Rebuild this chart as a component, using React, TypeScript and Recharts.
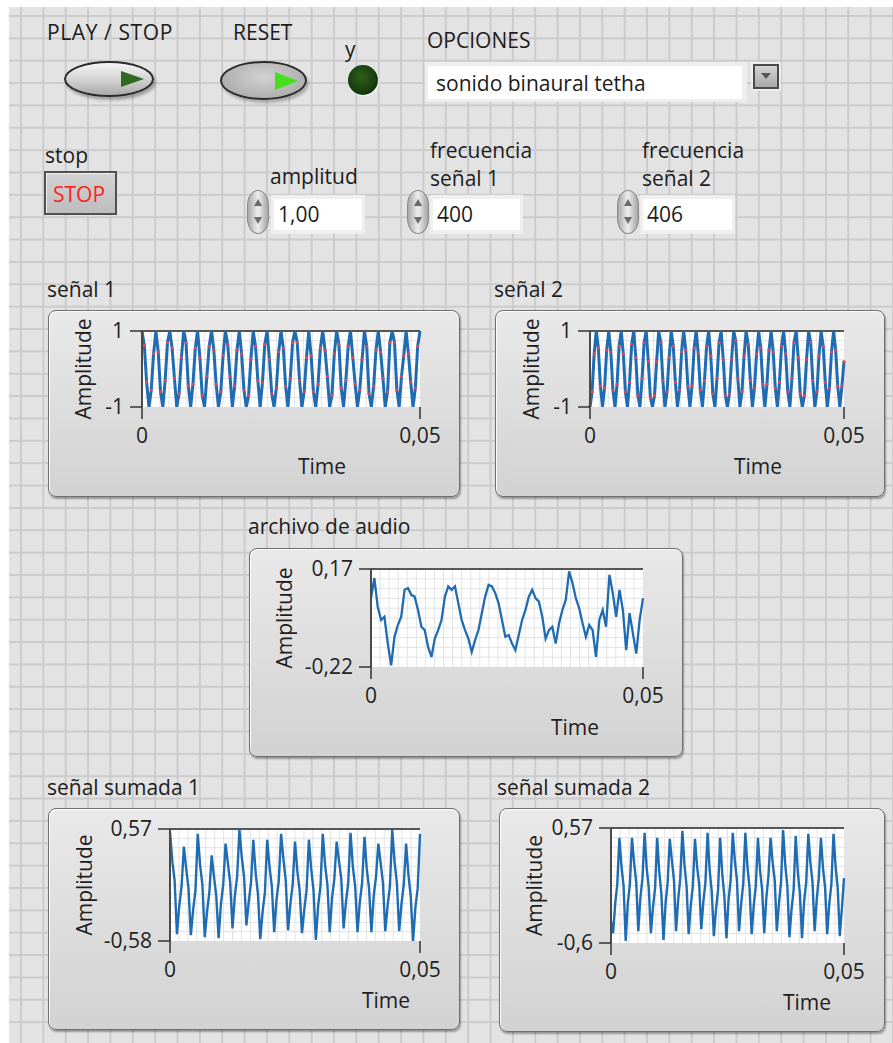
import React from "react";
import { LineChart, Line, XAxis, YAxis, CartesianGrid, ReferenceLine } from "recharts";

const FONT = "'Open Sans', 'Noto Sans', sans-serif";
const FS = 21;
const TXT = "#1c1c1c";

// ---------- data ----------
const timeTickLabels = ["0", "0,05"];

const senal1YTicks = [-1, 1];
const senal1YLabels = ["-1", "1"];
const senal1 = [
  1, 0.62, -0.35, -1, -0.55, 0.4,
  1, 0.45, -0.6, -1, -0.3, 0.7,
  1, 0.55, -0.25, -1, -0.65, 0.3,
  1, 0.7, -0.45, -1, -0.4, 0.55,
  1, 0.3, -0.7, -1, -0.2, 0.6,
  1, 0.5, -0.4, -1, -0.6, 0.35,
  1, 0.65, -0.2, -1, -0.45, 0.5,
  1, 0.4, -0.55, -1, -0.7, 0.25,
  1, 0.6, -0.3, -1, -0.35, 0.65,
  1, 0.25, -0.65, -1, -0.5, 0.45,
  1, 0.55, -0.45, -1, -0.25, 0.7,
  1, 0.7, -0.3, -1, -0.6, 0.3,
  1, 0.35, -0.6, -1, -0.4, 0.55,
  1, 0.5, -0.2, -1, -0.7, 0.4,
  1, 0.65, -0.5, -1, -0.3, 0.6,
  1, 0.3, -0.4, -1, -0.55, 0.25,
  1, 0.6, -0.65, -1, -0.45, 0.5,
  1, 0.45, -0.25, -1, -0.6, 0.7,
  1, 0.7, -0.55, -1, -0.2, 0.35,
  1, 0.4, -0.35, -1, -0.5, 0.6,
  1,
];

const senal2YTicks = [-1, 1];
const senal2YLabels = ["-1", "1"];
const senal2 = [
  -1, -0.6, 0.4, 1, 0.55, -0.45,
  -1, -0.5, 0.5, 1, 0.45, -0.55,
  -1, -0.4, 0.6, 1, 0.4, -0.6,
  -1, -0.35, 0.65, 1, 0.3, -0.7,
  -1, -0.25, 0.7, 1, 0.2, -0.75,
  -1, -0.7, 0.2, 1, 0.7, -0.3,
  -1, -0.6, 0.3, 1, 0.6, -0.35,
  -1, -0.55, 0.45, 1, 0.5, -0.45,
  -1, -0.45, 0.55, 1, 0.4, -0.55,
  -1, -0.3, 0.6, 1, 0.35, -0.65,
  -1, -0.25, 0.7, 1, 0.25, -0.7,
  -1, -0.65, 0.25, 1, 0.75, -0.25,
  -1, -0.6, 0.35, 1, 0.65, -0.3,
  -1, -0.5, 0.4, 1, 0.55, -0.4,
  -1, -0.4, 0.5, 1, 0.45, -0.5,
  -1, -0.35, 0.6, 1, 0.4, -0.6,
  -1, -0.25, 0.7, 1, 0.3, -0.65,
  -1, -0.7, 0.25, 1, 0.7, -0.3,
  -1, -0.6, 0.35, 1, 0.6, -0.35,
  -1, -0.5, 0.45, 1, 0.5, -0.45,
  -1, -0.45, 0.2,
];

const audioYTicks = [-0.22, 0.17];
const audioYLabels = ["-0,22", "0,17"];
const audio = [
  0.054, 0.134, 0.02, -0.033, -0.02, -0.127, -0.213, -0.1, -0.053, -0.02,
  0.087, 0.094, 0.067, 0.06, 0.007, -0.06, -0.073, -0.14, -0.18, -0.107,
  -0.073, -0.033, 0.06, 0.101, 0.087, 0.101, 0.034, -0.033, -0.073, -0.107,
  -0.16, -0.113, -0.073, -0.006, 0.06, 0.107, 0.101, 0.074, 0.034, -0.033,
  -0.1, -0.093, -0.127, -0.153, -0.093, -0.033, 0.007, 0.06, 0.087, 0.054,
  0.04, -0.02, -0.107, -0.073, -0.06, -0.127, -0.046, 0.007, 0.047, 0.161,
  0.114, 0.054, 0.014, -0.046, -0.1, -0.053, -0.073, -0.18, -0.033, 0.007,
  -0.06, 0.147, 0.074, -0.02, 0.087, 0.007, -0.153, -0.006, -0.087, -0.167,
  -0.033, 0.054,
];

const sumada1YTicks = [-0.58, 0.57];
const sumada1YLabels = ["-0,58", "0,57"];
const sumada1 = [
  0.54, 0.24, 0.04, -0.51, -0.22, -0.02,
  0.39, 0.16, -0.04, -0.52, -0.26, -0.06,
  0.52, 0.2, 0.0, -0.54, -0.28, -0.08,
  0.3, 0.08, -0.12, -0.55, -0.2, 0.0,
  0.42, 0.22, 0.02, -0.45, -0.12, 0.08,
  0.56, 0.28, 0.08, -0.42, -0.18, 0.02,
  0.46, 0.12, -0.1, -0.56, -0.28, -0.08,
  0.46, 0.18, -0.02, -0.49, -0.16, 0.04,
  0.52, 0.26, 0.04, -0.47, -0.2, 0.0,
  0.44, 0.14, -0.06, -0.5, -0.26, -0.06,
  0.46, 0.16, -0.06, -0.57, -0.22, -0.02,
  0.52, 0.2, 0.0, -0.49, -0.14, 0.06,
  0.44, 0.24, 0.06, -0.45, -0.18, 0.02,
  0.53, 0.18, -0.02, -0.49, -0.18, 0.02,
  0.49, 0.16, -0.04, -0.49, -0.12, 0.08,
  0.42, 0.22, 0.02, -0.48, -0.22, -0.02,
  0.56, 0.24, 0.02, -0.48, -0.2, 0.0,
  0.42, 0.1, -0.12, -0.58, -0.24, -0.04,
  0.52,
];

const sumada2YTicks = [-0.6, 0.57];
const sumada2YLabels = ["-0,6", "0,57"];
const sumada2 = [
  -0.38, -0.5, -0.2, 0.0,
  0.47, 0.18, -0.02, -0.58, -0.2, 0.0,
  0.47, 0.22, 0.02, -0.48, -0.14, 0.06,
  0.52, 0.16, -0.04, -0.5, -0.24, -0.04,
  0.47, 0.12, -0.1, -0.57, -0.2, 0.02,
  0.46, 0.24, 0.04, -0.48, -0.16, 0.06,
  0.54, 0.2, -0.02, -0.51, -0.22, -0.02,
  0.46, 0.18, 0.0, -0.46, -0.18, 0.02,
  0.52, 0.14, -0.08, -0.53, -0.26, -0.06,
  0.47, 0.1, -0.12, -0.55, -0.16, 0.04,
  0.52, 0.24, 0.04, -0.48, -0.2, 0.0,
  0.52, 0.18, -0.04, -0.51, -0.22, -0.02,
  0.47, 0.14, -0.06, -0.5, -0.14, 0.08,
  0.47, 0.22, 0.04, -0.48, -0.2, 0.02,
  0.55, 0.2, -0.02, -0.54, -0.26, -0.06,
  0.49, 0.12, -0.1, -0.55, -0.18, 0.02,
  0.51, 0.22, 0.02, -0.48, -0.16, 0.06,
  0.47, 0.16, -0.04, -0.51, -0.2, 0.0,
  0.51, 0.18, -0.04, -0.53, -0.25, 0.06,
];

// ---------- layout ----------
type Rect = { x: number; y: number; w: number; h: number };
type GraphSpec = {
  title: string;
  titleX: number;
  titleBase: number;
  box: Rect;
  plot: Rect;
  ampX: number;
  timeX: number;
  timeBase: number;
  values: number[];
  yTicks: number[];
  yLabels: string[];
  lineWidth: number;
  redDots?: boolean;
};

const graphs: GraphSpec[] = [
  {
    title: "señal 1", titleX: 47, titleBase: 297.5,
    box: { x: 48, y: 310, w: 412, h: 187 }, plot: { x: 142, y: 331, w: 278, h: 76 },
    ampX: 84, timeX: 322, timeBase: 474,
    values: senal1, yTicks: senal1YTicks, yLabels: senal1YLabels, lineWidth: 3, redDots: true,
  },
  {
    title: "señal 2", titleX: 494, titleBase: 297.5,
    box: { x: 495, y: 310, w: 390, h: 187 }, plot: { x: 590, y: 331, w: 254, h: 76 },
    ampX: 532, timeX: 758, timeBase: 474,
    values: senal2, yTicks: senal2YTicks, yLabels: senal2YLabels, lineWidth: 3, redDots: true,
  },
  {
    title: "archivo de audio", titleX: 248, titleBase: 535,
    box: { x: 249, y: 548, w: 434, h: 209 }, plot: { x: 371, y: 569, w: 272, h: 98 },
    ampX: 285, timeX: 575, timeBase: 735,
    values: audio, yTicks: audioYTicks, yLabels: audioYLabels, lineWidth: 2.3,
  },
  {
    title: "señal sumada 1", titleX: 47, titleBase: 795.5,
    box: { x: 48, y: 808, w: 412, h: 222 }, plot: { x: 170, y: 829, w: 250, h: 112 },
    ampX: 85, timeX: 386, timeBase: 1008,
    values: sumada1, yTicks: sumada1YTicks, yLabels: sumada1YLabels, lineWidth: 2.4,
  },
  {
    title: "señal sumada 2", titleX: 497, titleBase: 795.5,
    box: { x: 499, y: 808, w: 386, h: 224 }, plot: { x: 611, y: 828, w: 233, h: 115 },
    ampX: 535, timeX: 807, timeBase: 1010,
    values: sumada2, yTicks: sumada2YTicks, yLabels: sumada2YLabels, lineWidth: 2.4,
  },
];

function Txt({ x, base, size = FS, color = TXT, spacing = 0, children }: any) {
  return (
    <div
      style={{
        position: "absolute", left: x, top: base - 0.888 * size, fontSize: size,
        lineHeight: `${size}px`, color, fontFamily: FONT, whiteSpace: "nowrap",
        letterSpacing: spacing,
      }}
    >
      {children}
    </div>
  );
}

function gridLines(start: number, len: number, step: number) {
  const n = Math.max(1, Math.round(len / step));
  const out: number[] = [];
  for (let k = 1; k < n; k++) out.push(start + (k * len) / n);
  return out;
}

function redDot(p: any) {
  const v = p.payload ? p.payload.v : undefined;
  if (v === undefined || Math.abs(v) > 0.9) return <g key={`d${p.index}`} />;
  return <circle key={`d${p.index}`} cx={p.cx} cy={p.cy} r={1.5} fill="#e0485a" />;
}

function Graph({ g }: { g: GraphSpec }) {
  const { box, plot } = g;
  const left = plot.x - box.x;
  const top = plot.y - box.y;
  const right = box.x + box.w - (plot.x + plot.w);
  const axisH = g.timeBase - (plot.y + plot.h);
  const bottom = box.y + box.h - g.timeBase;
  const data = g.values.map((v, i) => ({ i, v }));
  const last = g.values.length - 1;
  const vLines = gridLines(left, plot.w, 9);
  const hLines = gridLines(top, plot.h, 9.5);
  const tickStyle = { fill: "#222", fontSize: FS, fontFamily: FONT };
  return (
    <>
      <Txt x={g.titleX} base={g.titleBase}>{g.title}</Txt>
      <div
        style={{
          position: "absolute", left: box.x, top: box.y, width: box.w, height: box.h,
          boxSizing: "border-box", borderRadius: 8, border: "1px solid #6f6f6f",
          background: "linear-gradient(#e9e9e9, #d2d2d2)",
          boxShadow: "inset 1px 1px 0 #fbfbfb, 1px 2px 2px rgba(0,0,0,0.35)",
        }}
      />
      <div style={{ position: "absolute", left: box.x, top: box.y }}>
        <LineChart width={box.w} height={box.h} data={data} margin={{ top, right, bottom, left: 0 }}>
          <CartesianGrid
            fill="#ffffff"
            stroke="#e3e3e3"
            verticalCoordinatesGenerator={() => vLines}
            horizontalCoordinatesGenerator={() => hLines}
          />
          <XAxis
            type="number"
            dataKey="i"
            domain={[0, last]}
            ticks={[0, last]}
            interval={0}
            tickFormatter={(v: number) => (v === 0 ? timeTickLabels[0] : timeTickLabels[1])}
            height={axisH}
            tickSize={12}
            tickMargin={9}
            axisLine={false}
            tickLine={{ stroke: "#333", strokeWidth: 1.5 }}
            tick={tickStyle}
            label={{
              value: "Time", position: "insideBottom", offset: 0,
              dx: g.timeX - (plot.x + plot.w / 2), fill: "#1e1e1e", fontSize: FS,
              style: { fontFamily: FONT },
            }}
          />
          <YAxis
            type="number"
            domain={[g.yTicks[0], g.yTicks[1]]}
            ticks={g.yTicks}
            allowDataOverflow
            tickFormatter={(v: number) => (v === g.yTicks[0] ? g.yLabels[0] : g.yLabels[1])}
            width={left}
            tickSize={12}
            tickMargin={6}
            axisLine={{ stroke: "#4a4a4a", strokeWidth: 2 }}
            tickLine={{ stroke: "#333", strokeWidth: 1.5 }}
            tick={tickStyle}
            label={{
              value: "Amplitude", angle: -90, position: "insideLeft", offset: g.ampX - box.x,
              fill: "#1e1e1e", fontSize: FS, style: { textAnchor: "middle", fontFamily: FONT },
            }}
          />
          <ReferenceLine y={g.yTicks[1]} stroke="#555" strokeWidth={2} />
          <Line
            type="linear"
            dataKey="v"
            stroke="#1f6cb3"
            strokeWidth={g.lineWidth}
            dot={g.redDots ? redDot : false}
            activeDot={false}
            isAnimationActive={false}
          />
        </LineChart>
      </div>
    </>
  );
}

function Spinner({ x, y }: { x: number; y: number }) {
  return (
    <>
      <div
        style={{
          position: "absolute", left: x, top: y, width: 22, height: 44, boxSizing: "border-box",
          borderRadius: "50% / 35%", border: "1px solid #8a8a8a",
          background: "linear-gradient(to right, #a9a9a9, #eeeeee 50%, #a4a4a4)",
        }}
      />
      <div style={{ position: "absolute", left: x + 7, top: y + 9, width: 0, height: 0, borderLeft: "4px solid transparent", borderRight: "4px solid transparent", borderBottom: "7px solid #6a6a6a" }} />
      <div style={{ position: "absolute", left: x + 7, top: y + 27, width: 0, height: 0, borderLeft: "4px solid transparent", borderRight: "4px solid transparent", borderTop: "7px solid #6a6a6a" }} />
    </>
  );
}

function NumBox({ x, w, text }: { x: number; w: number; text: string }) {
  return (
    <>
      <div style={{ position: "absolute", left: x - 3, top: 195, width: w + 6, height: 39, background: "#efefef" }} />
      <div style={{ position: "absolute", left: x, top: 199, width: w, height: 31, background: "#ffffff" }} />
      <Txt x={x + 4} base={223}>{text}</Txt>
    </>
  );
}

export default function App() {
  return (
    <div
      style={{
        position: "absolute", left: 0, top: 0, width: 893, height: 1043,
        background: "#ffffff", overflow: "hidden", fontFamily: FONT,
      }}
    >
      <div
        style={{
          position: "absolute", left: 9, top: 7, right: 0, bottom: 0,
          backgroundColor: "#e3e3e3",
          backgroundImage:
            "linear-gradient(to right, #cbcbcb 0, #cbcbcb 1.5px, transparent 1.5px), linear-gradient(to bottom, #cbcbcb 0, #cbcbcb 1.5px, transparent 1.5px)",
          backgroundSize: "22.36px 22.36px",
          backgroundPosition: "11px 8px",
        }}
      />

      {/* top controls */}
      <Txt x={47} base={41} spacing={0.6}>PLAY / STOP</Txt>
      <div
        style={{
          position: "absolute", left: 64, top: 61, width: 90, height: 36, boxSizing: "border-box",
          borderRadius: "50%", border: "2px solid #2b2b2b",
          background: "linear-gradient(#f6f6f6, #d0d0d0 55%, #a9a9a9)",
          boxShadow: "2px 3px 3px rgba(0,0,0,0.3)",
        }}
      />
      <div style={{ position: "absolute", left: 121, top: 71, width: 0, height: 0, borderTop: "8px solid transparent", borderBottom: "8px solid transparent", borderLeft: "23px solid #2f6a20" }} />

      <Txt x={233} base={41}>RESET</Txt>
      <div
        style={{
          position: "absolute", left: 220, top: 61, width: 87, height: 39, boxSizing: "border-box",
          borderRadius: "50%", border: "2px solid #2b2b2b",
          background: "radial-gradient(ellipse at 50% 40%, #d2d2d2, #b0b0b0 70%, #8e8e8e)",
          boxShadow: "2px 3px 3px rgba(0,0,0,0.25)",
        }}
      />
      <div style={{ position: "absolute", left: 275, top: 72, width: 0, height: 0, borderTop: "9px solid transparent", borderBottom: "9px solid transparent", borderLeft: "23px solid #45e01c" }} />

      <Txt x={345} base={58}>y</Txt>
      <div
        style={{
          position: "absolute", left: 348, top: 65, width: 30, height: 30, borderRadius: "50%",
          background: "radial-gradient(circle at 45% 40%, #2f5f1d, #173d0c 60%, #0b1f05)",
          boxShadow: "1px 1px 2px #fafafa",
        }}
      />

      <Txt x={427} base={48.5}>OPCIONES</Txt>
      <div style={{ position: "absolute", left: 425, top: 62, width: 322, height: 40, background: "#eeeeee" }} />
      <div style={{ position: "absolute", left: 428, top: 66, width: 314, height: 33, background: "#ffffff" }} />
      <Txt x={436} base={91.5}>sonido binaural tetha</Txt>
      <div style={{ position: "absolute", left: 751, top: 62, width: 30, height: 29, background: "#eeeeee" }} />
      <div
        style={{
          position: "absolute", left: 753, top: 64, width: 26, height: 25, boxSizing: "border-box",
          border: "2px solid #4a4a4a", background: "linear-gradient(#d4d4d4, #a9a9a9)",
        }}
      />
      <div style={{ position: "absolute", left: 761, top: 73, width: 0, height: 0, borderLeft: "5px solid transparent", borderRight: "5px solid transparent", borderTop: "6px solid #555" }} />

      <Txt x={45} base={163.5}>stop</Txt>
      <div
        style={{
          position: "absolute", left: 44, top: 171, width: 73, height: 44, boxSizing: "border-box",
          border: "2px solid #505050", background: "linear-gradient(#d3d3d3, #bdbdbd)",
          boxShadow: "inset 1px 1px 0 #efefef",
        }}
      />
      <Txt x={53} base={202.5} color="#ff1f1f">STOP</Txt>

      <Txt x={270} base={185}>amplitud</Txt>
      <Spinner x={247} y={190} />
      <NumBox x={274} w={88} text="1,00" />

      <Txt x={430} base={158.5}>frecuencia</Txt>
      <Txt x={430} base={186.5}>señal 1</Txt>
      <Spinner x={407} y={190} />
      <NumBox x={433} w={87} text="400" />

      <Txt x={642} base={158.5}>frecuencia</Txt>
      <Txt x={642} base={186.5}>señal 2</Txt>
      <Spinner x={617} y={190} />
      <NumBox x={643} w={89} text="406" />

      {graphs.map((g) => (
        <Graph key={g.title} g={g} />
      ))}
    </div>
  );
}
